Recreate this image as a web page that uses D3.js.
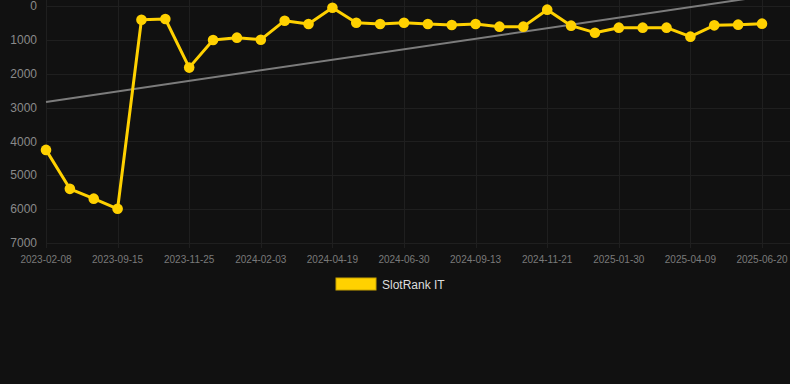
<!DOCTYPE html>
<html>
<head>
<meta charset="utf-8">
<script src="https://cdn.jsdelivr.net/npm/d3@7"></script>
<style>
  html, body { margin: 0; padding: 0; background: #111111; }
  svg { display: block; font-family: "Liberation Sans", Arial, sans-serif; }
</style>
</head>
<body>
<div id="chart"></div>
<script>
// rank values, one per snapshot (31 points)
const rankValues = [4250, 5400, 5690, 5990, 405, 385, 1820, 1005, 935, 995,
  434, 532, 50, 493, 532, 493, 532, 561, 532, 610,
  610, 108, 581, 788, 640, 640, 640, 906, 571, 551, 522];
// dates shown on the x axis, every 3rd point
const tickLabels = ['2023-02-08', '2023-09-15', '2023-11-25', '2024-02-03', '2024-04-19',
  '2024-06-30', '2024-09-13', '2024-11-21', '2025-01-30', '2025-04-09', '2025-06-20'];
const yTicks = [0, 1000, 2000, 3000, 4000, 5000, 6000, 7000];
// trend line, value at first and last point
const trendValues = [2835, -280];
const seriesName = 'SlotRank IT';

(function() {
    const w = 790, h = 384;
    const gold = '#ffd100';
    const svg = d3.select('#chart').append('svg').attr('width', w).attr('height', h);

    const idx = d3.range(rankValues.length);
    const x = d3.scalePoint().domain(idx).range([46, 762]);
    const y = d3.scaleLinear().domain([0, 7000]).range([6, 243]);

    // grid
    const grid = svg.append('g').attr('stroke', '#1f1f1f').attr('stroke-width', 1);
    grid.selectAll('line.h').data(yTicks).enter().append('line')
        .attr('x1', 46).attr('x2', w).attr('y1', d => Math.round(y(d)) + 0.5).attr('y2', d => Math.round(y(d)) + 0.5);
    const tickIdx = idx.filter(i => i % 3 === 0);
    grid.selectAll('line.v').data(tickIdx).enter().append('line')
        .attr('x1', d => Math.round(x(d)) + 0.5).attr('x2', d => Math.round(x(d)) + 0.5).attr('y1', 0).attr('y2', 248);

    // y axis labels
    svg.append('g').selectAll('text').data(yTicks).enter().append('text')
        .attr('x', 37).attr('y', d => y(d)).attr('dy', '0.35em')
        .attr('text-anchor', 'end').style('font-size', '12px').style('fill', '#8a8a8a')
        .text(d => d);

    // x axis labels
    svg.append('g').selectAll('text').data(tickIdx).enter().append('text')
        .attr('x', d => x(d)).attr('y', 263)
        .attr('text-anchor', 'middle').style('font-size', '10px').style('fill', '#7a7a7a')
        .text((d, i) => tickLabels[i]);

    // trend line
    svg.append('line')
        .attr('x1', x(0)).attr('y1', y(trendValues[0]))
        .attr('x2', x(idx.length - 1)).attr('y2', y(trendValues[1]))
        .attr('stroke', '#7c7c7c').attr('stroke-width', 2);

    // series
    const line = d3.line().x((d, i) => x(i)).y(d => y(d));
    svg.append('path').datum(rankValues).attr('d', line)
        .attr('fill', 'none').attr('stroke', gold).attr('stroke-width', 3).attr('stroke-linejoin', 'round');
    svg.append('g').selectAll('circle').data(rankValues).enter().append('circle')
        .attr('cx', (d, i) => x(i)).attr('cy', d => y(d)).attr('r', 5.3)
        .attr('fill', gold);

    // legend
    svg.append('rect').attr('x', 336).attr('y', 278).attr('width', 40).attr('height', 12)
        .attr('fill', gold).attr('stroke', '#c9a400').attr('stroke-width', 1);
    svg.append('text').attr('x', 382).attr('y', 284.5).attr('dy', '0.35em')
        .style('font-size', '12px').style('fill', '#dddddd').text(seriesName);
})();
</script>
</body>
</html>
